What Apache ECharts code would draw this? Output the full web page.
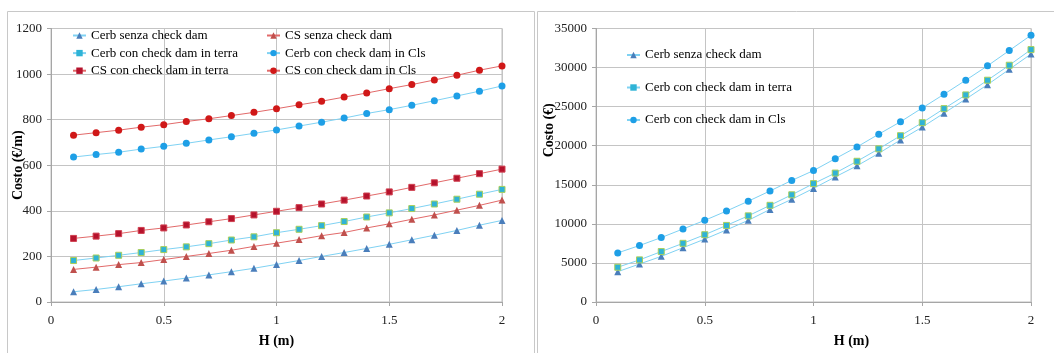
<!DOCTYPE html>
<html>
<head>
<meta charset="utf-8">
<script src="https://cdn.jsdelivr.net/npm/echarts@6/dist/echarts.min.js"></script>
<style>
  html, body { margin: 0; padding: 0; background: #fff; }
  #chart { width: 1054px; height: 353px; }
</style>
</head>
<body>
<div id="chart"></div>
<script>
// H (m)
const hValues = [0.1, 0.2, 0.3, 0.4, 0.5, 0.6, 0.7, 0.8, 0.9, 1.0, 1.1, 1.2, 1.3, 1.4, 1.5, 1.6, 1.7, 1.8, 1.9, 2.0];

// costo al metro (€/m) - grafico sinistro
const cerbSenza = [45, 55, 67, 80, 92, 105, 119, 133, 148, 165, 182, 200, 217, 235, 253, 273, 293, 314, 337, 358];
const csSenza = [143, 153, 164, 173, 186, 200, 213, 227, 244, 258, 274, 291, 305, 325, 343, 363, 382, 403, 424, 447];
const cerbTerra = [182, 193, 205, 217, 230, 242, 256, 272, 286, 304, 319, 335, 353, 373, 391, 410, 430, 451, 473, 494];
const cerbCls = [636, 647, 657, 671, 683, 696, 711, 725, 740, 755, 772, 789, 807, 827, 844, 863, 883, 904, 925, 948];
const csTerra = [279, 289, 300, 314, 325, 338, 352, 366, 382, 398, 414, 430, 447, 465, 483, 503, 523, 543, 563, 583];
const csCls = [732, 743, 754, 767, 778, 792, 804, 818, 832, 848, 865, 881, 899, 917, 936, 954, 974, 995, 1017, 1036];

// costo totale (€) - grafico destro
const cerbSenzaTot = [3880, 4860, 5840, 6945, 8050, 9225, 10450, 11846, 13145, 14540, 16010, 17430, 19025, 20740, 22380, 24170, 25970, 27810, 29770, 31730];
const cerbTerraTot = [4447, 5390, 6456, 7510, 8612, 9800, 11025, 12373, 13720, 15150, 16500, 18008, 19600, 21280, 22950, 24745, 26500, 28383, 30300, 32300];
const cerbClsTot = [6284, 7228, 8245, 9347, 10450, 11638, 12900, 14210, 15558, 16820, 18340, 19846, 21476, 23068, 24830, 26583, 28383, 30220, 32180, 34140];

const xTicks = [0, 0.5, 1, 1.5, 2];

const FONT = '"Liberation Serif", "Times New Roman", serif';
const CERB_LINE = '#7fd2f3';
const CS_LINE = '#e26a6a';

const chart = echarts.init(document.getElementById('chart'));

const pairs = arr => hValues.map((h, i) => [h, arr[i]]);

function makeSeries(name, data, idx, lineColor, symbol, size, fill, border) {
  return {
    name: name,
    type: 'line',
    xAxisIndex: idx,
    yAxisIndex: idx,
    data: pairs(data),
    symbol: symbol,
    symbolSize: size,
    showSymbol: true,
    animation: false,
    lineStyle: { color: lineColor, width: 1 },
    itemStyle: { color: fill, borderColor: border || fill, borderWidth: border ? 1 : 0 },
    emphasis: { disabled: true }
  };
}

function xAxisOf(idx, pad) {
  return {
    type: 'value',
    gridIndex: idx,
    min: 0, max: 2, interval: 0.5,
    name: 'H (m)',
    nameLocation: 'middle',
    nameGap: 32,
    nameMoveOverlap: false,
    nameTextStyle: { fontFamily: FONT, fontSize: 14, fontWeight: 'bold', color: '#000', padding: pad },
    axisLine: { show: true, lineStyle: { color: '#a6a6a6' } },
    axisTick: { show: true, length: 4, lineStyle: { color: '#a6a6a6' } },
    axisLabel: {
      fontFamily: FONT, fontSize: 13, color: '#222', margin: 12,
      formatter: v => xTicks.includes(v) ? String(v) : ''
    },
    splitLine: { show: true, lineStyle: { color: '#c4c4c4' } }
  };
}

function yAxisOf(idx, max, interval, name, gap, pad) {
  return {
    type: 'value',
    gridIndex: idx,
    min: 0, max: max, interval: interval,
    name: name,
    nameLocation: 'middle',
    nameGap: gap,
    nameRotate: 90,
    nameMoveOverlap: false,
    nameTextStyle: { fontFamily: FONT, fontSize: 14, fontWeight: 'bold', color: '#000', padding: pad },
    axisLine: { show: true, lineStyle: { color: '#a6a6a6' } },
    axisTick: { show: true, length: 4, lineStyle: { color: '#a6a6a6' } },
    axisLabel: { fontFamily: FONT, fontSize: 13, color: '#222', margin: 9, formatter: v => String(v) },
    splitLine: { show: true, lineStyle: { color: '#c4c4c4' } }
  };
}

const legendBase = {
  orient: 'vertical',
  padding: 0,
  itemWidth: 13,
  itemHeight: 8,
  selectedMode: false,
  textStyle: { fontFamily: FONT, fontSize: 13, color: '#000', lineHeight: 14 }
};

// i quadratini nella legenda senza bordo, come nell'originale
const legendItem = name => ({ name: name, itemStyle: { borderWidth: 0 } });

const option = {
  backgroundColor: '#fff',
  animation: false,
  graphic: [
    { type: 'rect', silent: true, shape: { x: 7.5, y: 11.5, width: 527, height: 400 },
      style: { fill: 'none', stroke: '#c8c8c8', lineWidth: 1 } },
    { type: 'rect', silent: true, shape: { x: 537.5, y: 11.5, width: 530, height: 400 },
      style: { fill: 'none', stroke: '#c8c8c8', lineWidth: 1 } }
  ],
  grid: [
    { left: 51, top: 28.5, width: 451, height: 286, show: true, borderColor: '#bfbfbf', borderWidth: 1, backgroundColor: 'transparent' },
    { left: 596, top: 28.5, width: 435, height: 286, show: true, borderColor: '#bfbfbf', borderWidth: 1, backgroundColor: 'transparent' }
  ],
  legend: [
    Object.assign({}, legendBase, {
      left: 72, top: 28.5, itemGap: 3.6,
      data: ['Cerb senza check dam', 'Cerb con check dam in terra', 'CS con check dam in terra'].map(legendItem)
    }),
    Object.assign({}, legendBase, {
      left: 266, top: 28.5, itemGap: 3.6,
      data: ['CS senza check dam', 'Cerb con check dam in Cls', 'CS con check dam in Cls'].map(legendItem)
    }),
    Object.assign({}, legendBase, {
      left: 626, top: 48, itemGap: 18.5,
      data: ['Cerb senza check dam', 'Cerb con check dam in terra', 'Cerb con check dam in Cls'].map(legendItem)
    })
  ],
  xAxis: [xAxisOf(0, [0, 0, 0, 0]), xAxisOf(1, [0, 0, 0, 76])],
  yAxis: [
    yAxisOf(0, 1200, 200, 'Costo (€/m)', 26, [0, 0, 0, 0]),
    yAxisOf(1, 35000, 5000, 'Costo (€)', 40, [0, 0, 0, 70])
  ],
  series: [
    makeSeries('Cerb senza check dam', cerbSenza, 0, CERB_LINE, 'triangle', 7, '#4a7ebb'),
    makeSeries('CS senza check dam', csSenza, 0, CS_LINE, 'triangle', 7, '#c0504d'),
    makeSeries('Cerb con check dam in terra', cerbTerra, 0, CERB_LINE, 'rect', 6, '#2fb3d6', '#a9cf5c'),
    makeSeries('Cerb con check dam in Cls', cerbCls, 0, CERB_LINE, 'circle', 7, '#1e9fe6'),
    makeSeries('CS con check dam in terra', csTerra, 0, CS_LINE, 'rect', 6, '#b5122c', '#d04050'),
    makeSeries('CS con check dam in Cls', csCls, 0, CS_LINE, 'circle', 7, '#d01818'),
    makeSeries('Cerb senza check dam', cerbSenzaTot, 1, CERB_LINE, 'triangle', 7, '#4a7ebb'),
    makeSeries('Cerb con check dam in terra', cerbTerraTot, 1, CERB_LINE, 'rect', 6, '#2fb3d6', '#a9cf5c'),
    makeSeries('Cerb con check dam in Cls', cerbClsTot, 1, CERB_LINE, 'circle', 7, '#1e9fe6')
  ]
};

chart.setOption(option);
window.addEventListener('resize', () => chart.resize());
</script>
</body>
</html>
